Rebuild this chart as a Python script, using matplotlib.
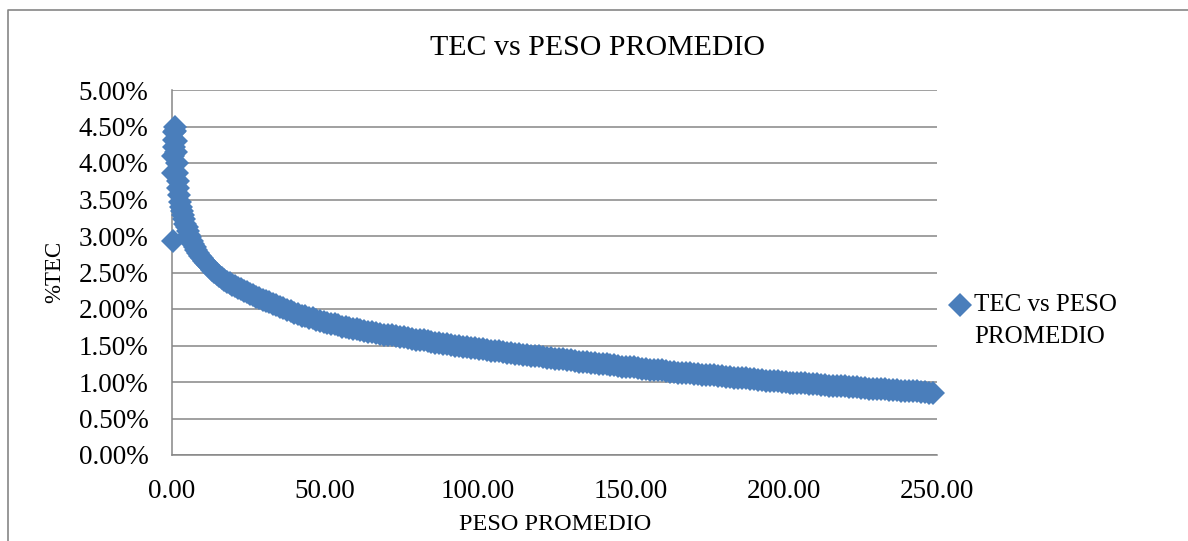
import matplotlib
matplotlib.use("Agg")
import matplotlib.pyplot as plt
from matplotlib.lines import Line2D
from matplotlib.ticker import FuncFormatter

# datos: peso promedio (g) y TEC (%)
peso = [
    0.25, 0.30, 0.40, 0.50, 0.60, 0.75, 0.90, 1.05,
    1.2, 1.35, 1.5, 1.7, 1.9, 2.1, 2.4, 2.7, 3.0, 3.3, 3.6, 4.0,
    4.4, 4.8, 5.2, 5.6, 6.0, 6.5, 7.0, 7.5, 8.0, 8.6, 9.2, 9.8,
    10.4, 11.0, 11.7, 12.4, 13.1, 13.8, 14.6, 15.4, 16.2, 17.0, 17.9, 18.8,
    19.7, 20.6, 21.5, 22.4, 23.4, 24.4, 25.4, 26.4, 27.4, 28.5, 29.6, 30.7,
    31.8, 32.9, 34.0, 35.2, 36.4, 37.6, 38.8, 40.0, 41.2, 42.4, 43.6, 44.8,
    46.0, 47.2, 48.4, 49.6, 50.8, 52.0, 53.2, 54.4, 55.6, 56.8, 58.0, 59.2,
    60.4, 61.6, 62.8, 64.0, 65.3, 66.6, 67.9, 69.2, 70.5, 71.8, 73.1, 74.4,
    75.7, 77.0, 78.3, 79.6, 80.9, 82.2, 83.5, 84.8, 86.1, 87.4, 88.7, 90.0,
    91.3, 92.6, 93.9, 95.2, 96.5, 97.8, 99.1, 100.4, 101.7, 103.0, 104.3, 105.6,
    106.9, 108.2, 109.5, 110.8, 112.1, 113.4, 114.7, 116.0, 117.3, 118.6, 119.9, 121.2,
    122.5, 123.8, 125.1, 126.4, 127.7, 129.0, 130.3, 131.6, 132.9, 134.2, 135.5, 136.8,
    138.1, 139.4, 140.7, 142.0, 143.3, 144.6, 145.9, 147.2, 148.5, 149.8, 151.1, 152.4,
    153.7, 155.0, 156.3, 157.6, 158.9, 160.2, 161.5, 162.8, 164.1, 165.4, 166.7, 168.0,
    169.3, 170.6, 171.9, 173.2, 174.5, 175.8, 177.1, 178.4, 179.7, 181.0, 182.3, 183.6,
    184.9, 186.2, 187.5, 188.8, 190.1, 191.4, 192.7, 194.0, 195.3, 196.6, 197.9, 199.2,
    200.5, 201.8, 203.1, 204.4, 205.7, 207.0, 208.3, 209.6, 210.9, 212.2, 213.5, 214.8,
    216.1, 217.4, 218.7, 220.0, 221.3, 222.6, 223.9, 225.2, 226.5, 227.8, 229.1, 230.4,
    231.7, 233.0, 234.3, 235.6, 236.9, 238.2, 239.5, 240.8, 242.1, 243.4, 244.7, 246.0,
    247.3, 248.6,
]
tec = [
    2.93, 3.86, 4.10, 4.22, 4.32, 4.42, 4.50, 4.44,
    4.30, 4.15, 4.00, 3.86, 3.75, 3.66, 3.56, 3.47, 3.40, 3.34, 3.29, 3.23,
    3.17, 3.12, 3.07, 3.02, 2.98, 2.93, 2.89, 2.85, 2.81, 2.77, 2.73, 2.70,
    2.66, 2.63, 2.60, 2.57, 2.54, 2.51, 2.48, 2.45, 2.42, 2.40, 2.37, 2.35,
    2.33, 2.31, 2.29, 2.27, 2.25, 2.23, 2.21, 2.19, 2.17, 2.15, 2.13, 2.11,
    2.09, 2.07, 2.05, 2.03, 2.01, 1.99, 1.97, 1.95, 1.93, 1.91, 1.90, 1.88,
    1.87, 1.85, 1.84, 1.82, 1.81, 1.80, 1.79, 1.78, 1.76, 1.75, 1.74, 1.73,
    1.72, 1.71, 1.70, 1.69, 1.68, 1.67, 1.66, 1.65, 1.65, 1.64, 1.63, 1.62,
    1.61, 1.60, 1.59, 1.58, 1.57, 1.57, 1.56, 1.55, 1.54, 1.53, 1.52, 1.52,
    1.51, 1.50, 1.49, 1.48, 1.48, 1.47, 1.46, 1.45, 1.45, 1.44, 1.43, 1.42,
    1.42, 1.41, 1.40, 1.40, 1.39, 1.38, 1.37, 1.37, 1.36, 1.35, 1.35, 1.34,
    1.33, 1.33, 1.32, 1.32, 1.31, 1.30, 1.30, 1.29, 1.28, 1.28, 1.27, 1.26,
    1.26, 1.25, 1.24, 1.24, 1.23, 1.23, 1.22, 1.21, 1.21, 1.20, 1.20, 1.19,
    1.18, 1.18, 1.17, 1.17, 1.16, 1.16, 1.15, 1.14, 1.14, 1.13, 1.13, 1.12,
    1.12, 1.11, 1.11, 1.10, 1.10, 1.09, 1.09, 1.08, 1.08, 1.07, 1.07, 1.06,
    1.06, 1.05, 1.05, 1.04, 1.04, 1.03, 1.03, 1.02, 1.02, 1.01, 1.01, 1.00,
    1.00, 0.99, 0.99, 0.99, 0.98, 0.98, 0.97, 0.97, 0.97, 0.96, 0.96, 0.95,
    0.95, 0.95, 0.94, 0.94, 0.93, 0.93, 0.93, 0.92, 0.92, 0.91, 0.91, 0.91,
    0.90, 0.90, 0.89, 0.89, 0.89, 0.88, 0.88, 0.87, 0.87, 0.87, 0.86, 0.86,
    0.85, 0.85,
]

x_ticks = [0, 50, 100, 150, 200, 250]
y_ticks = [0, 0.5, 1.0, 1.5, 2.0, 2.5, 3.0, 3.5, 4.0, 4.5, 5.0]

azul = "#4A7EBB"
gris = "#868686"
plt.rcParams["font.family"] = ["Liberation Serif", "DejaVu Serif"]

W, H = 1188, 541
fig = plt.figure(figsize=(W / 100, H / 100), dpi=100)
ax = fig.add_axes([172 / W, 1 - 455 / H, (937 - 172) / W, (455 - 90) / H])

ax.plot(peso, tec, linestyle="none", marker="D", markersize=12.5,
        color=azul, markeredgewidth=0, clip_on=False, zorder=3)

ax.set_xlim(0, 250)
ax.set_ylim(0, 5)
ax.set_xticks(x_ticks)
ax.set_yticks(y_ticks)
ax.xaxis.set_major_formatter(FuncFormatter(lambda v, p: f"{v:.2f}"))
ax.yaxis.set_major_formatter(FuncFormatter(lambda v, p: f"{v:.2f}%"))
ax.tick_params(axis="both", length=0, labelsize=19.5, colors="black")
ax.tick_params(axis="y", pad=17)
ax.tick_params(axis="x", pad=17)

ax.grid(axis="y", color=gris, linewidth=1.1)
ax.set_axisbelow(True)
for s in ["top", "right"]:
    ax.spines[s].set_visible(False)
for s in ["left", "bottom"]:
    ax.spines[s].set_color(gris)
    ax.spines[s].set_linewidth(1.1)

# titulo y etiquetas de ejes
fig.text(598 / W, 1 - 48 / H, "TEC vs PESO PROMEDIO", ha="center", va="center", fontsize=21.5)
fig.text(555 / W, 1 - 524 / H, "PESO PROMEDIO", ha="center", va="center", fontsize=17.5)
fig.text(55 / W, 1 - 272 / H, "%TEC", ha="center", va="center", rotation=90, fontsize=16.5)

# leyenda
fig.add_artist(Line2D([960 / W], [1 - 305 / H], transform=fig.transFigure, linestyle="none",
                      marker="D", markersize=12, color=azul, markeredgewidth=0))
fig.text(974 / W, 1 - 305 / H, "TEC vs PESO", ha="left", va="center", fontsize=18)
fig.text(974 / W, 1 - 337 / H, "PROMEDIO", ha="left", va="center", fontsize=18)

# borde del area del grafico (recortado a la derecha y abajo)
fig.add_artist(Line2D([8 / W, 8 / W, 1], [0, 1 - 10 / H, 1 - 10 / H],
                      transform=fig.transFigure, color=gris, linewidth=1.2))

fig.savefig("out.png", dpi=100)
